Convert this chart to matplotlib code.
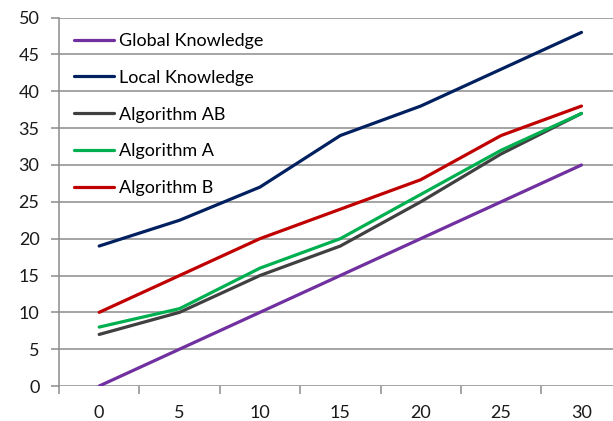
import matplotlib.pyplot as plt
import numpy as np

# series values per x category
categorias = ['0', '5', '10', '15', '20', '25', '30']
global_knowledge = [0, 5, 10, 15, 20, 25, 30]
local_knowledge = [19, 22.5, 27, 34, 38, 43, 48]
algoritmo_ab = [7, 10, 15, 19, 25, 31.5, 37]
algoritmo_a = [8, 10.5, 16, 20, 26, 32, 37]
algoritmo_b = [10, 15, 20, 24, 28, 34, 38]

series = [
    ('Global Knowledge', global_knowledge, '#7030A0'),
    ('Local Knowledge', local_knowledge, '#002060'),
    ('Algorithm AB', algoritmo_ab, '#404040'),
    ('Algorithm A', algoritmo_a, '#00B050'),
    ('Algorithm B', algoritmo_b, '#C00000'),
]

plt.rcParams['font.family'] = ['Lato', 'DejaVu Sans']

fig = plt.figure(figsize=(6.13, 4.21), dpi=100)
# plot area runs a little past the right edge of the figure
ax = fig.add_axes([0.0962, 0.0831, 0.918, 0.875])

x = np.arange(len(categorias))
for nombre, valores, color in series:
    ax.plot(x, valores, color=color, lw=2.3, label=nombre,
            solid_capstyle='round', solid_joinstyle='round')

ax.set_xlim(-0.5, len(categorias) - 0.5)
ax.set_ylim(0, 50)
ax.set_yticks(np.arange(0, 51, 5))
ax.yaxis.grid(True, color='#8c8c8c', lw=1.1)
ax.set_axisbelow(True)

ax.set_xticks(x)
ax.set_xticklabels(categorias)
ax.set_xticks(np.arange(-0.5, len(categorias), 1), minor=True)
ax.tick_params(axis='x', which='major', length=0, pad=14, labelsize=13, labelcolor='#1a1a1a')
ax.tick_params(axis='x', which='minor', length=6, width=1.1, color='#8c8c8c', direction='out')
ax.tick_params(axis='y', length=6, width=1.1, color='#8c8c8c', pad=8, labelsize=13, labelcolor='#1a1a1a')

for lado in ['top', 'right', 'bottom']:
    ax.spines[lado].set_visible(False)
ax.spines['left'].set_color('#8c8c8c')
ax.spines['left'].set_linewidth(1.1)

ax.legend(loc='upper left', bbox_to_anchor=(0.0, 1.0), frameon=False,
          fontsize=13, handlelength=2.2, handletextpad=0.25, labelspacing=1.15,
          borderaxespad=0.45)

fig.savefig('out.png', dpi=100)
